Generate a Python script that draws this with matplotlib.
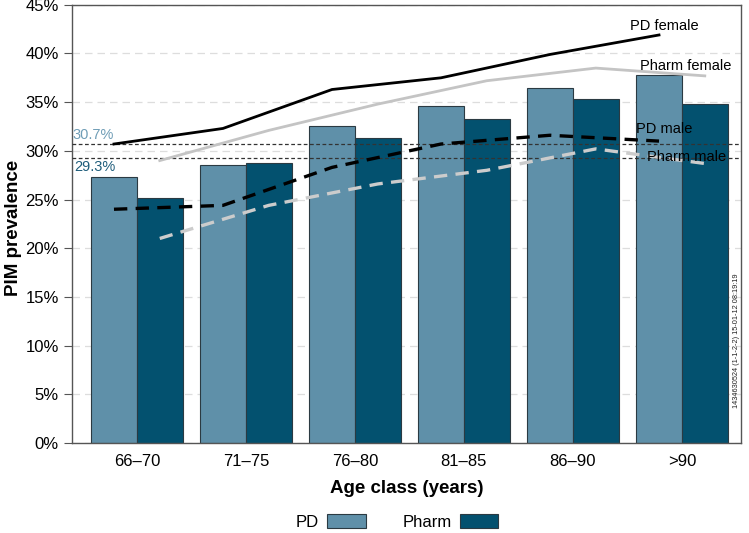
import numpy as np
import matplotlib.pyplot as plt

plt.rcParams['font.family'] = ['Liberation Sans', 'DejaVu Sans']

# ── data ─────────────────────────────────────
age_classes = ["66–70", "71–75", "76–80", "81–85", "86–90", ">90"]
pd_all      = [27.3, 28.5, 32.5, 34.6, 36.5, 37.8]
pharm_all   = [25.2, 28.7, 31.3, 33.3, 35.3, 34.8]
pd_female    = [30.7, 32.3, 36.3, 37.5, 39.9, 41.9]
pharm_female = [29.0, 32.1, 34.8, 37.2, 38.5, 37.7]
pd_male      = [24.0, 24.4, 28.3, 30.7, 31.6, 31.0]
pharm_male   = [21.0, 24.4, 26.6, 28.0, 30.2, 28.7]
pd_overall    = 30.7
pharm_overall = 29.3

C_PD    = "#5f90a9"
C_PHARM = "#03516f"

fig = plt.figure(figsize=(7.49, 5.33), dpi=100)
ax = fig.add_axes([0.096, 0.169, 0.893, 0.822])

x = np.arange(len(age_classes))
w = 0.42
ax.bar(x - w / 2, pd_all, w, color=C_PD, edgecolor="#2b3a42", linewidth=0.8, zorder=2, label="PD")
ax.bar(x + w / 2, pharm_all, w, color=C_PHARM, edgecolor="#2b3a42", linewidth=0.8, zorder=2, label="Pharm")

# sex-specific lines, PD at PD bar centres, Pharm at Pharm bar centres
ax.plot(x - w / 2, pd_female, color="black", lw=2, zorder=4)
ax.plot(x + w / 2, pharm_female, color="#c4c4c4", lw=2, zorder=4)
ax.plot(x - w / 2, pd_male, color="black", lw=2.4, ls=(0, (4, 2.5)), zorder=4)
ax.plot(x + w / 2, pharm_male, color="#cccccc", lw=2.4, ls=(0, (4, 2.5)), zorder=4)

# overall reference lines
ax.axhline(pd_overall, color="#333333", lw=0.9, ls=(0, (3, 2)), zorder=3)
ax.axhline(pharm_overall, color="#333333", lw=0.9, ls=(0, (3, 2)), zorder=3)
ax.text(-0.59, pd_overall + 0.25, f"{pd_overall}%", color="#6f9db6", fontsize=10.5, va="bottom", ha="left")
ax.text(-0.57, pharm_overall - 0.25, f"{pharm_overall}%", color="#1e5d7b", fontsize=10.5, va="top", ha="left")

# line labels
ax.text(4.52, 42.8, "PD female", fontsize=10.5, va="center", zorder=5)
ax.text(4.62, 38.7, "Pharm female", fontsize=10.5, va="center", zorder=5)
ax.text(4.58, 32.2, "PD male", fontsize=10.5, va="center", zorder=5)
ax.text(4.68, 29.4, "Pharm male", fontsize=10.5, va="center", zorder=5)

ax.text(5.5, 10.5, "1434630524 (1-1-2-2) 15-01-12 08:19:19", rotation=90,
        fontsize=5.3, ha="center", va="center", color="#222222")

ax.set_xlim(-0.596, 5.54)
ax.set_ylim(0, 45)
ax.set_yticks(np.arange(0, 46, 5))
ax.set_yticklabels([f"{v}%" for v in range(0, 46, 5)], fontsize=12)
ax.set_xticks(x)
ax.set_xticklabels(age_classes, fontsize=12)
ax.tick_params(axis="x", length=0, pad=8)
ax.tick_params(axis="y", length=6, color="#555555")
ax.yaxis.grid(True, color="#dddddd", ls=(0, (6, 4)), lw=0.9, zorder=0)
ax.set_axisbelow(True)
for s in ax.spines.values():
    s.set_color("#555555")
    s.set_linewidth(1)

ax.set_xlabel("Age class (years)", fontsize=13.5, fontweight="bold", labelpad=8)
ax.set_ylabel("PIM prevalence", fontsize=13.5, fontweight="bold")
ax.yaxis.set_label_coords(-0.074, 0.49)

fig.legend(loc="center", bbox_to_anchor=(0.53, 0.021), ncol=2, frameon=False,
           markerfirst=False, fontsize=12, handlelength=2.3, handleheight=0.9,
           columnspacing=2.2, handletextpad=0.5)

fig.savefig("out.png", dpi=100)
